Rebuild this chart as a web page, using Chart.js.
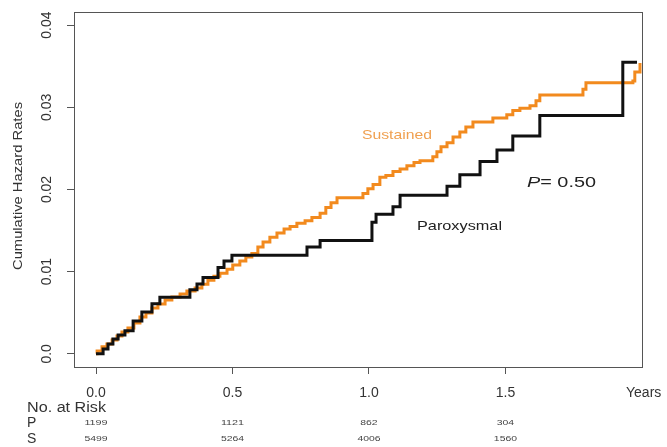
<!DOCTYPE html>
<html>
<head>
<meta charset="utf-8">
<script src="https://cdn.jsdelivr.net/npm/chart.js@4.4.0/dist/chart.umd.min.js"></script>
<style>
  html, body { margin: 0; padding: 0; background: #fff; }
  #wrap { width: 667px; height: 447px; }
</style>
</head>
<body>
<div id="wrap"><canvas id="grafico" width="667" height="447"></canvas></div>
<script>
// tick positions / labels
var xTicks = [0, 0.5, 1.0, 1.5];
var xTickLabels = ['0.0', '0.5', '1.0', '1.5'];
var yTicks = [0, 0.01, 0.02, 0.03, 0.04];
var yTickLabels = ['0.0', '0.01', '0.02', '0.03', '0.04'];

// numbers at risk
var riskP = [1199, 1121, 862, 304];
var riskS = [5499, 5264, 4006, 1560];

// Paroxysmal (black) step curve: time of jump, new cumulative hazard
var parTime = [0, 0.026, 0.044, 0.062, 0.081, 0.106, 0.136, 0.168, 0.205, 0.234, 0.344, 0.370, 0.392, 0.447, 0.469, 0.498,
  0.773, 0.821, 1.011, 1.026, 1.088, 1.114, 1.286, 1.333, 1.407, 1.469, 1.527, 1.626, 1.930, 1.982];
var parHaz = [0, 0.0006, 0.0012, 0.0018, 0.0023, 0.0028, 0.0040, 0.0051, 0.0061, 0.0069, 0.0078, 0.0085, 0.0093, 0.0105, 0.0113, 0.0120,
  0.0130, 0.0138, 0.0160, 0.0170, 0.0179, 0.0193, 0.0204, 0.0218, 0.0234, 0.0248, 0.0265, 0.0290, 0.0355, 0.0355];

// Sustained (orange) step curve
var susTime = [0, 0.004, 0.022, 0.040, 0.059, 0.077, 0.095, 0.117, 0.139, 0.161, 0.183, 0.205, 0.227, 0.253, 0.278, 0.308, 0.333, 0.363,
  0.388, 0.410, 0.432, 0.454, 0.480, 0.501, 0.527, 0.549, 0.571, 0.593, 0.612, 0.637, 0.663, 0.689, 0.711, 0.736, 0.766, 0.791, 0.821,
  0.842, 0.861, 0.883, 0.978, 0.996, 1.015, 1.040, 1.062, 1.088, 1.114, 1.139, 1.165, 1.187, 1.234, 1.249, 1.264, 1.286, 1.308, 1.333,
  1.355, 1.381, 1.454, 1.505, 1.527, 1.553, 1.590, 1.612, 1.626, 1.784, 1.795, 1.967, 1.974, 1.993];
var susHaz = [0, 0.00036, 0.00085, 0.00121, 0.0017, 0.00218, 0.00267, 0.00315, 0.00376, 0.00448, 0.00497, 0.00558, 0.00606, 0.00655,
  0.00691, 0.00727, 0.00764, 0.0080, 0.00848, 0.00897, 0.00945, 0.00982, 0.0103, 0.0108, 0.0113, 0.0118, 0.0122, 0.0130, 0.0136, 0.0142,
  0.0147, 0.0152, 0.0155, 0.0159, 0.0162, 0.0166, 0.0171, 0.0178, 0.0184, 0.0190, 0.0195, 0.0201, 0.0206, 0.0215, 0.0217, 0.0222, 0.0225,
  0.0229, 0.0233, 0.0235, 0.0240, 0.0246, 0.0252, 0.0257, 0.0264, 0.0270, 0.0276, 0.0282, 0.0287, 0.0291, 0.0296, 0.0299, 0.0302, 0.0308,
  0.0315, 0.0322, 0.0330, 0.0332, 0.0343, 0.0354];

function toPoints(t, h) {
  var pts = [];
  t.forEach(function (v, i) { pts.push({x: v, y: h[i]}); });
  return pts;
}

var FONT = '"Liberation Sans", Arial, sans-serif';

// draw text stretched along its baseline to a given length
function fitText(ctx, text, x, y, len, align, rot) {
  var w = ctx.measureText(text).width;
  ctx.save();
  ctx.translate(x, y);
  if (rot) ctx.rotate(rot);
  ctx.scale(len / w, 1);
  ctx.textAlign = align;
  ctx.fillText(text, 0, 0);
  ctx.restore();
}

var extras = {
  id: 'extras',
  afterDraw: function (chart) {
    var ctx = chart.ctx;
    var a = chart.chartArea;
    var xs = chart.scales.x, ys = chart.scales.y;
    ctx.save();
    // box
    ctx.strokeStyle = '#555';
    ctx.lineWidth = 1;
    ctx.strokeRect(a.left + 0.5, a.top + 0.5, a.right - a.left - 1, a.bottom - a.top);

    ctx.fillStyle = '#333';
    ctx.textBaseline = 'middle';
    // y tick labels, rotated
    ctx.font = '14px ' + FONT;
    yTicks.forEach(function (v, i) {
      ctx.save();
      ctx.translate(47, ys.getPixelForValue(v));
      ctx.rotate(-Math.PI / 2);
      ctx.textAlign = 'center';
      ctx.fillText(yTickLabels[i], 0, 0);
      ctx.restore();
    });
    // y title
    ctx.font = '12px ' + FONT;
    fitText(ctx, 'Cumulative Hazard Rates', 19, 186, 168, 'center', -Math.PI / 2);

    // x tick labels
    ctx.font = '14px ' + FONT;
    ctx.textAlign = 'center';
    xTicks.forEach(function (v, i) {
      ctx.fillText(xTickLabels[i], xs.getPixelForValue(v), 393);
    });
    ctx.textAlign = 'left';
    ctx.fillText('Years', 626, 393);

    // risk table
    fitText(ctx, 'No. at Risk', 27, 408, 79, 'left');
    ctx.fillText('P', 27, 423);
    ctx.fillText('S', 27, 439);
    ctx.font = '8px ' + FONT;
    ctx.fillStyle = '#444';
    xTicks.forEach(function (v, i) {
      var px = xs.getPixelForValue(v);
      var ws = ctx.measureText('0').width * 1.3;
      fitText(ctx, String(riskP[i]), px, 423, ws * String(riskP[i]).length, 'center');
      fitText(ctx, String(riskS[i]), px, 439, ws * String(riskS[i]).length, 'center');
    });

    // curve labels
    ctx.font = '13px ' + FONT;
    ctx.fillStyle = '#f0a050';
    fitText(ctx, 'Sustained', 362, 135, 70, 'left');
    ctx.fillStyle = '#222';
    fitText(ctx, 'Paroxysmal', 417, 226, 85, 'left');

    ctx.font = 'italic 15px ' + FONT;
    var wp = ctx.measureText('P').width;
    ctx.font = '15px ' + FONT;
    var wr = ctx.measureText('= 0.50').width;
    var k = 69 / (wp + wr);
    ctx.save();
    ctx.translate(527, 183);
    ctx.scale(k, 1);
    ctx.textAlign = 'left';
    ctx.font = 'italic 15px ' + FONT;
    ctx.fillText('P', 0, 0);
    ctx.font = '15px ' + FONT;
    ctx.fillText('= 0.50', wp, 0);
    ctx.restore();
    ctx.restore();
  }
};

var myChart = new Chart(document.getElementById('grafico'), {
  type: 'line',
  data: {
    datasets: [{
      label: 'Paroxysmal',
      data: toPoints(parTime, parHaz),
      borderColor: '#111',
      borderWidth: 3,
      stepped: 'before',
      pointRadius: 0,
      fill: false
    }, {
      label: 'Sustained',
      data: toPoints(susTime, susHaz),
      borderColor: '#f28a1e',
      borderWidth: 3,
      stepped: 'before',
      pointRadius: 0,
      fill: false
    }]
  },
  options: {
    responsive: false,
    animation: false,
    events: [],
    layout: {padding: {left: 0, right: 24, top: 12, bottom: 0}},
    plugins: {legend: {display: false}, tooltip: {enabled: false}},
    scales: {
      x: {
        type: 'linear',
        min: -0.0806,
        max: 2.004,
        afterBuildTicks: function (s) { s.ticks = xTicks.map(function (v) { return {value: v}; }); },
        afterFit: function (s) { s.height = 447 - 367; },
        border: {display: false},
        grid: {drawOnChartArea: false, drawTicks: true, tickLength: 7, color: '#555', lineWidth: 1},
        ticks: {display: false}
      },
      y: {
        type: 'linear',
        min: -0.0016,
        max: 0.0416,
        afterBuildTicks: function (s) { s.ticks = yTicks.map(function (v) { return {value: v}; }); },
        afterFit: function (s) { s.width = 74; },
        border: {display: false},
        grid: {drawOnChartArea: false, drawTicks: true, tickLength: 7, color: '#555', lineWidth: 1},
        ticks: {display: false}
      }
    }
  },
  plugins: [extras]
});
</script>
</body>
</html>
